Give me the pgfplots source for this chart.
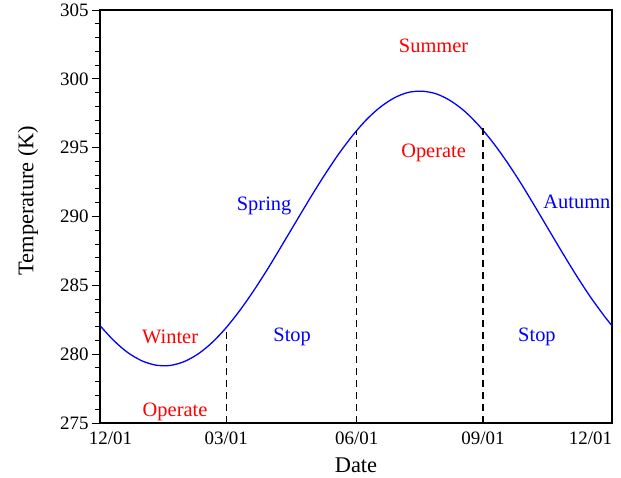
\documentclass[border=0pt]{standalone}
\usepackage{pgfplots}
\pgfplotsset{compat=1.18}
\usepackage{fontspec}
\setmainfont{Liberation Serif}
\begin{document}
\begin{tikzpicture}
\begin{axis}[
  scale only axis,
  width=512bp, height=413bp,
  xmin=0, xmax=365, ymin=275, ymax=305,
  axis line style={line width=1.2pt},
  xtick={0,90,183,273,365},
  xticklabels={\makebox[0pt][l]{\hspace*{-11bp}12/01},03/01,06/01,09/01,\makebox[0pt][r]{12/01}},
  x tick style={draw=none},
  ytick={275,280,...,305},
  minor y tick num=4,
  ytick pos=left,
  xtick pos=bottom,
  tick align=outside,
  y tick style={line width=1pt, black},
  major tick length=8bp,
  minor tick length=4.5bp,
  tick label style={font=\fontsize{19}{21}\selectfont},
  /pgf/number format/assume math mode=true,
  xticklabel style={yshift=3bp},
  every axis y label/.style={at={(axis description cs:0,0.539)}, xshift=-72bp, rotate=90, anchor=center},
  every axis x label/.style={at={(axis description cs:0.5,0)}, yshift=-42bp, anchor=center},
  xlabel={Date},
  ylabel={Temperature (K)},
  label style={font=\fontsize{22.5}{24}\selectfont},
  clip=false,
]
\addplot[blue, line width=1.3pt, smooth] coordinates {
(0,282.07) (10,280.97) (20,280.10) (30,279.51) (40,279.20) (50,279.18)
(60,279.46) (70,280.02) (80,280.85) (90,281.93) (100,283.22) (110,284.68)
(120,286.27) (130,287.96) (140,289.67) (150,291.37) (160,293.00) (170,294.52)
(180,295.87) (190,297.04) (200,297.96) (210,298.63) (220,299.02) (230,299.10)
(240,298.90) (250,298.40) (260,297.64) (270,296.62) (280,295.39) (290,293.98)
(300,292.42) (310,290.74) (320,289.02) (330,287.31) (340,285.65) (350,284.10)
(360,282.70) (365,282.07)
};
\addplot[black, dash pattern=on 7bp off 5bp, line width=1.2pt] coordinates {(90,275) (90,281.93)};
\addplot[black, dash pattern=on 7bp off 5bp, line width=1.2pt] coordinates {(183,275) (183,296.3)};
\addplot[black, dash pattern=on 7bp off 5bp, line width=1.2pt] coordinates {(273,275) (273,296.4)};
\begin{scope}[every node/.style={font=\fontsize{20.5}{22}\selectfont}]
\node[red] at (axis cs:237.8,302.38) {Summer};
\node[red] at (axis cs:237.8,294.61) {Operate};
\node[blue] at (axis cs:117,290.76) {Spring};
\node[blue] at (axis cs:340,291.05) {Autumn};
\node[red] at (axis cs:50,281.25) {Winter};
\node[red] at (axis cs:53.5,275.8) {Operate};
\node[blue] at (axis cs:137,281.25) {Stop};
\node[blue] at (axis cs:311.5,281.25) {Stop};
\end{scope}
\end{axis}
\path (current axis.south west) ++(-100bp,-55bp) rectangle ([xshift=9bp,yshift=10bp]current axis.north east);
\end{tikzpicture}
\end{document}
